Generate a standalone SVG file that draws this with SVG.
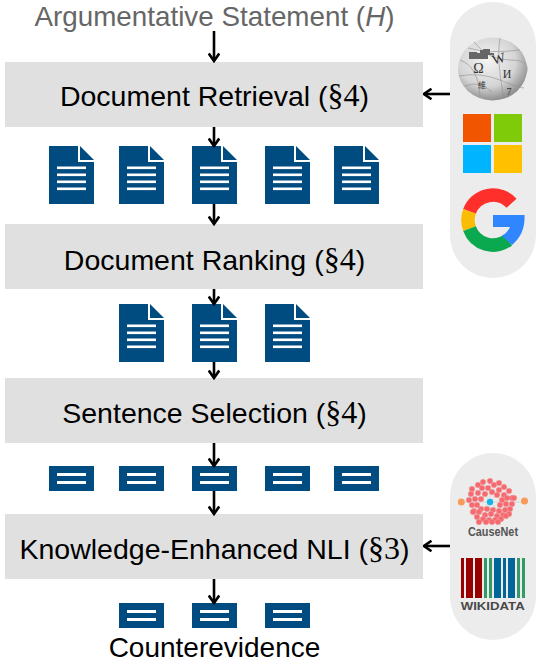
<svg xmlns="http://www.w3.org/2000/svg" xmlns:xlink="http://www.w3.org/1999/xlink" width="540" height="665" viewBox="0 0 540 665">
<style>
.t{font-family:"Liberation Sans",Arial,sans-serif;font-size:28.500px;fill:#000;text-anchor:middle}
.s{font-family:"Liberation Serif","Times New Roman",serif;font-size:32px}
.box{fill:#e0e0e0}
.pill{fill:#ececec}
.con{fill:none;stroke:#000;stroke-width:2.6}
.doc{fill:#004b80}
.ln{fill:#fff}
.r{fill:#f8696f;stroke:#e8a0a0;stroke-width:.5}
.o{fill:#f79a5a}
.g{font-family:"Liberation Serif",serif;fill:#333;font-size:14px;text-anchor:middle}
.p{fill:none;stroke:#8f8f8f;stroke-width:.6}
</style>
<defs>
<marker id="a" viewBox="0 0 12 12" refX="10.5" refY="6" markerWidth="12" markerHeight="12" markerUnits="userSpaceOnUse" orient="auto"><path d="M3 .8 L10.5 6 L3 11.2" fill="none" stroke="#000" stroke-width="2.6"/></marker>
<radialGradient id="gl" cx=".42" cy=".36" r=".7"><stop offset="0" stop-color="#f4f4f4"/><stop offset=".6" stop-color="#d4d4d4"/><stop offset="1" stop-color="#7e7e7e"/></radialGradient>
<g id="d">
<path class="doc" d="M0 0H29V16H45V58H0Z"/><path class="doc" d="M31 0L45 14H31Z"/>
<rect class="ln" x="8" y="20.500" width="29" height="2.600"/><rect class="ln" x="8" y="27.500" width="29" height="2.600"/><rect class="ln" x="8" y="34.500" width="29" height="2.600"/><rect class="ln" x="8" y="41.500" width="29" height="2.600"/>
</g>
<g id="sn">
<rect class="doc" x="0" y="0" width="45" height="25"/>
<rect class="ln" x="8" y="7" width="29" height="3"/><rect class="ln" x="8" y="15" width="29" height="3"/>
</g>
</defs>

<g id="panel-sources">
<rect class="pill" x="450" y="2" width="86" height="276" rx="43"/>
<g id="wikipedia">
<ellipse cx="492.500" cy="69" rx="34.500" ry="31.500" fill="url(#gl)"/>
<path class="p" d="M460 60Q478 66 480 96M474 42Q488 60 510 60T526 74M500 38Q496 58 504 99M459 76Q480 72 500 80T524 88M468 48Q490 54 520 50M465 86Q480 80 492 92"/>
<path fill="#666" d="M469 52H477V53H480V50H483V49H490V53H494V55H488V59H469Z"/>
<text class="g" x="478.500" y="73">Ω</text>
<text class="g" x="500" y="63" transform="rotate(-15 500 63)">W</text>
<text class="g" x="507" y="78" style="font-size:12px">И</text>
<text class="g" x="482" y="88" style="font-family:'Noto Sans CJK SC',serif;font-size:8px">維</text>
<text class="g" x="509" y="95" style="font-size:10px">7</text>
</g>
<g id="microsoft">
<rect x="463" y="114" width="28" height="28" fill="#f25500"/>
<rect x="494" y="114" width="28" height="28" fill="#7fcb0a"/>
<rect x="463" y="145" width="28" height="28" fill="#00b4ff"/>
<rect x="494" y="145" width="28" height="28" fill="#ffc000"/>
</g>
<g id="google" fill="none" stroke-width="13.500">
<path stroke="#ff302c" d="M511.500 203.300A25 25 0 0 0 469.500 211.400"/>
<path stroke="#fbbc05" d="M469.500 211.400A25 25 0 0 0 469.500 228.600"/>
<path stroke="#0aa84f" d="M469.500 228.600A25 25 0 0 0 508 240"/>
<path fill="#2f86ff" stroke="none" d="M493 215H524.500Q525.500 234 512 245L502 236Q508 232 510 227H493Z"/>
</g>
</g>

<g id="panel-knowledge">
<rect class="pill" x="450" y="453" width="86" height="187" rx="43"/>
<g id="causenet">
<path fill="none" stroke="#c9c9c9" stroke-width=".6" d="M461 502H524.500M490 502L478 484M490 502L505 484M490 502L474 515M490 502L508 518M490 502L490 480M490 502L490 522"/>
<g id="causenet-dots">
<circle class="r" cx="483" cy="482" r="2.800"/><circle class="r" cx="490" cy="481" r="2.800"/><circle class="r" cx="499" cy="483" r="2.800"/><circle class="r" cx="478" cy="485" r="2.800"/><circle class="r" cx="494" cy="485" r="2.800"/>
<circle class="r" cx="504" cy="487" r="2.800"/><circle class="r" cx="472" cy="489" r="2.800"/><circle class="r" cx="482" cy="488" r="2.800"/><circle class="r" cx="488" cy="488" r="2.800"/><circle class="r" cx="499" cy="490" r="2.800"/>
<circle class="r" cx="509" cy="491" r="2.800"/><circle class="r" cx="471" cy="494" r="2.800"/><circle class="r" cx="478" cy="493" r="2.800"/><circle class="r" cx="485" cy="494" r="2.800"/><circle class="r" cx="492" cy="492" r="2.800"/>
<circle class="r" cx="497" cy="495" r="2.800"/><circle class="r" cx="504" cy="495" r="2.800"/><circle class="r" cx="512" cy="498" r="2.800"/><circle class="r" cx="469" cy="500" r="2.800"/><circle class="r" cx="475" cy="499" r="2.800"/>
<circle class="r" cx="481" cy="499" r="2.800"/><circle class="r" cx="502" cy="500" r="2.800"/><circle class="r" cx="507" cy="498" r="2.800"/><circle class="r" cx="514" cy="498" r="2.800"/><circle class="r" cx="472" cy="505" r="2.800"/>
<circle class="r" cx="477" cy="505" r="2.800"/><circle class="r" cx="500" cy="505" r="2.800"/><circle class="r" cx="506" cy="504" r="2.800"/><circle class="r" cx="512" cy="504" r="2.800"/><circle class="r" cx="474" cy="511" r="2.800"/>
<circle class="r" cx="481" cy="509" r="2.800"/><circle class="r" cx="487" cy="509" r="2.800"/><circle class="r" cx="493" cy="510" r="2.800"/><circle class="r" cx="499" cy="511" r="2.800"/><circle class="r" cx="505" cy="510" r="2.800"/>
<circle class="r" cx="510" cy="509" r="2.800"/><circle class="r" cx="473" cy="512" r="2.800"/><circle class="r" cx="479" cy="512" r="2.800"/><circle class="r" cx="485" cy="515" r="2.800"/><circle class="r" cx="491" cy="514" r="2.800"/>
<circle class="r" cx="497" cy="516" r="2.800"/><circle class="r" cx="503" cy="515" r="2.800"/><circle class="r" cx="509" cy="514" r="2.800"/><circle class="r" cx="477" cy="517" r="2.800"/><circle class="r" cx="483" cy="519" r="2.800"/>
<circle class="r" cx="489" cy="520" r="2.800"/><circle class="r" cx="495" cy="520" r="2.800"/><circle class="r" cx="501" cy="519" r="2.800"/><circle class="r" cx="506" cy="516" r="2.800"/><circle class="r" cx="479" cy="522" r="2.800"/>
<circle class="r" cx="486" cy="522" r="2.800"/><circle class="r" cx="492" cy="522" r="2.800"/><circle class="r" cx="498" cy="522" r="2.800"/>
</g>
<circle cx="490" cy="502" r="3.200" fill="#13b5e8"/>
<circle class="o" cx="461.300" cy="502" r="3.500"/><circle class="o" cx="524.500" cy="501" r="3.500"/>
<text x="493" y="536" text-anchor="middle" style="font-family:'Liberation Sans',sans-serif;font-weight:bold;font-size:13px" fill="#555" textLength="50" lengthAdjust="spacingAndGlyphs">CauseNet</text>
</g>
<g id="wikidata">
<path fill="#990000" d="M461 558h3v40h-3zM466 558h7v40h-7zM475 558h7v40h-7z"/>
<path fill="#339966" d="M484 558h3v40h-3zM489 558h3v40h-3zM517 558h3v40h-3zM522 558h3v40h-3z"/>
<path fill="#006699" d="M494 558h7v40h-7zM503 558h3v40h-3zM508 558h7v40h-7z"/>
<text x="492.700" y="610" text-anchor="middle" style="font-family:'Liberation Sans',sans-serif;font-weight:bold;font-size:11px" fill="#484848" textLength="64" lengthAdjust="spacingAndGlyphs">WIKIDATA</text>
</g>
</g>

<g id="stage-retrieval"><rect class="box" x="5" y="62" width="418" height="65"/><text class="t" x="214.500" y="106">Document Retrieval (<tspan class="s">§4</tspan>)</text></g>
<g id="stage-ranking"><rect class="box" x="5" y="224" width="418" height="65"/><text class="t" x="214.500" y="270">Document Ranking (<tspan class="s">§4</tspan>)</text></g>
<g id="stage-selection"><rect class="box" x="5" y="378" width="418" height="65"/><text class="t" x="214.500" y="423">Sentence Selection (<tspan class="s">§4</tspan>)</text></g>
<g id="stage-nli"><rect class="box" x="5" y="514" width="418" height="65"/><text class="t" x="214.500" y="559">Knowledge-Enhanced NLI (<tspan class="s">§3</tspan>)</text></g>
<g id="input"><text class="t" x="214.500" y="26" style="fill:#666;font-size:27.800px">Argumentative Statement (<tspan font-style="italic">H</tspan>)</text></g>
<g id="output"><text class="t" x="214.500" y="657" style="font-size:28px">Counterevidence</text></g>

<g id="docs-1"><use href="#d" x="49" y="146"/><use href="#d" x="119" y="146"/><use href="#d" x="192" y="146"/><use href="#d" x="265" y="146"/><use href="#d" x="334" y="146"/></g>
<g id="docs-2"><use href="#d" x="119" y="304"/><use href="#d" x="192" y="304"/><use href="#d" x="265" y="304"/></g>
<g id="sentences-1"><use href="#sn" x="49" y="466"/><use href="#sn" x="119" y="466"/><use href="#sn" x="192" y="466"/><use href="#sn" x="265" y="466"/><use href="#sn" x="334" y="466"/></g>
<g id="sentences-2"><use href="#sn" x="119" y="603"/><use href="#sn" x="192" y="603"/><use href="#sn" x="265" y="603"/></g>

<g id="connectors">
<path class="con" marker-end="url(#a)" d="M214 31V61"/>
<path class="con" marker-end="url(#a)" d="M214 127V146"/>
<path class="con" marker-end="url(#a)" d="M214 204V224"/>
<path class="con" marker-end="url(#a)" d="M214 289V304"/>
<path class="con" marker-end="url(#a)" d="M214 362V378"/>
<path class="con" marker-end="url(#a)" d="M214 443V466"/>
<path class="con" marker-end="url(#a)" d="M214 491V514"/>
<path class="con" marker-end="url(#a)" d="M214 579V603"/>
<path class="con" marker-end="url(#a)" d="M450 94H424"/>
<path class="con" marker-end="url(#a)" d="M450 546H424"/>
</g>
</svg>
